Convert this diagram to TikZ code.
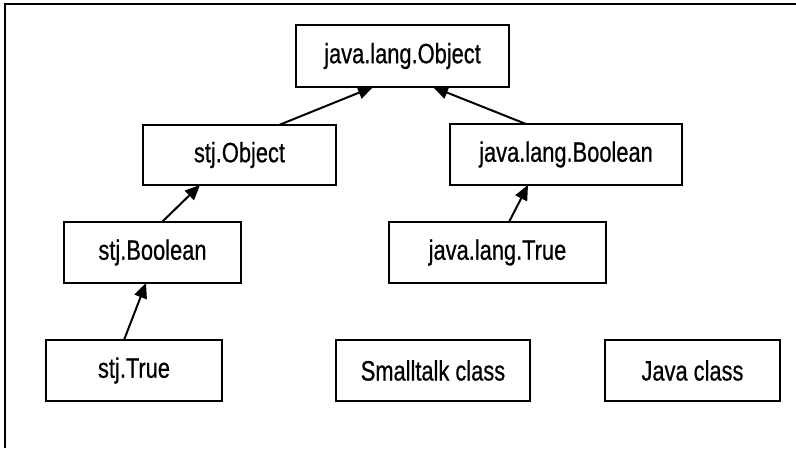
\documentclass[tikz,border=0pt]{standalone}
\usepackage{fontspec}
\setmainfont[FakeStretch=0.78,FakeBold=0.6]{Liberation Sans}
\usetikzlibrary{arrows.meta,calc}
\begin{document}
\begin{tikzpicture}[x=1pt,y=-1pt,
  cls/.style={draw,line width=2.2pt,inner sep=0pt,outer sep=0pt,font=\fontsize{28}{30}\selectfont},
  inh/.style={line width=2pt,-{Triangle[length=15pt,width=13pt]}}]
\useasboundingbox (0,0) rectangle (796,448);
\fill[white] (0,0) rectangle (796,448);
\coordinate (fa) at (5,448);
\coordinate (fb) at (5,4);
\coordinate (fc) at (796,4);
\draw[line width=2pt] (fa) -- (fb) -- (fc);
\node[cls,minimum width=213pt,minimum height=62pt] (jobj) at (402.5,56) {java.lang.Object};
\node[cls,minimum width=193pt,minimum height=60pt] (sobj) at (239.5,155) {stj.Object};
\node[cls,minimum width=232pt,minimum height=61pt] (jbool) at (566,154.5) {java.lang.Boolean};
\node[cls,minimum width=177pt,minimum height=61pt] (sbool) at (152.5,252.5) {stj.Boolean};
\node[cls,minimum width=217pt,minimum height=61pt] (jtrue) at (497.5,252.5) {java.lang.True};
\node[cls,minimum width=176pt,minimum height=61pt] (strue) at (134,370.5) {stj.True};
\node[cls,minimum width=194pt,minimum height=61pt] (stalk) at (433,370.5) {Smalltalk class};
\node[cls,minimum width=175pt,minimum height=61pt] (jclass) at (692.5,370.5) {Java class};
\draw[inh] ([xshift=39.5pt]sobj.north) -- ([xshift=-29.5pt]jobj.south);
\draw[inh] ([xshift=-40pt]jbool.north) -- ([xshift=30.5pt]jobj.south);
\draw[inh] ([xshift=9.5pt]sbool.north) -- ([xshift=-39.5pt]sobj.south);
\draw[inh] ([xshift=11.5pt]jtrue.north) -- ([xshift=-38pt]jbool.south);
\draw[inh] ([xshift=-10pt]strue.north) -- ([xshift=-6.5pt]sbool.south);
\end{tikzpicture}
\end{document}
